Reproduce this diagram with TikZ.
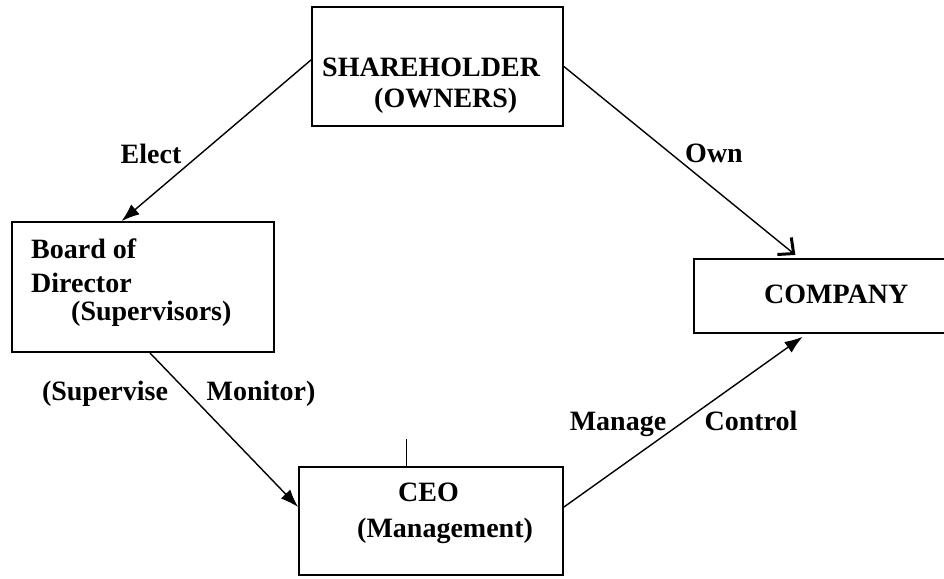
\documentclass[tikz,border=0pt]{standalone}
\usepackage{fontspec}
\setmainfont{Liberation Serif}
\usetikzlibrary{arrows.meta}
\begin{document}
\begin{tikzpicture}[x=1pt,y=-1pt,
    box/.style={draw, line width=1.8pt, inner sep=0pt},
    txt/.style={font=\fontsize{28}{32}\selectfont\bfseries, inner sep=0pt, align=left, anchor=north west},
    lbl/.style={font=\fontsize{28}{32}\selectfont\bfseries, inner sep=0pt, anchor=base},
    link/.style={line width=1.4pt, -{Latex[length=18pt,width=13pt]}}]
    \useasboundingbox (0,0) rectangle (944,578);
    \node[box, minimum width=251pt, minimum height=119pt] (share) at (437.5,66.5) {};
    \node[box, minimum width=262pt, minimum height=130pt] (board) at (143,287) {};
    \node[box, minimum width=256pt, minimum height=74pt] (company) at (822,296) {};
    \node[box, minimum width=264pt, minimum height=108pt] (ceo) at (431,521) {};
    \node[txt] (shareTxt) at (322,58) {SHAREHOLDER\\[-1pt]\hspace*{52pt}(OWNERS)};
    \node[txt] (boardTxt) at (31,239) {Board of\\[2pt]Director\\[-4pt]\hspace*{40pt}(Supervisors)};
    \node[txt] (ceoTxt) at (357,483) {\hspace*{41pt}CEO\\[4pt](Management)};
    \node[lbl, anchor=base west] (companyTxt) at (764,303) {COMPANY};
    \node[lbl] (elect) at (151,163) {Elect};
    \node[lbl] (own) at (714,162) {Own};
    \node[lbl] (supervise) at (105,400) {(Supervise};
    \node[lbl] (monitor) at (261,400) {Monitor)};
    \node[lbl] (manage) at (618,430) {Manage};
    \node[lbl] (control) at (751,430) {Control};
    \draw[link] (share.177) -- (board.108);
    \draw[line width=1.4pt, -{Straight Barb[length=12pt,width=22pt,line width=3pt]}, shorten >=5pt] (share.east) -- (company.121);
    \draw[link] (board.276) -- (ceo.174);
    \draw[link, shorten >=5pt] (ceo.6) -- (company.248);
    \coordinate (tick) at (406,439);
    \draw[line width=1pt] (tick) -- (tick |- ceo.north);
\end{tikzpicture}
\end{document}
